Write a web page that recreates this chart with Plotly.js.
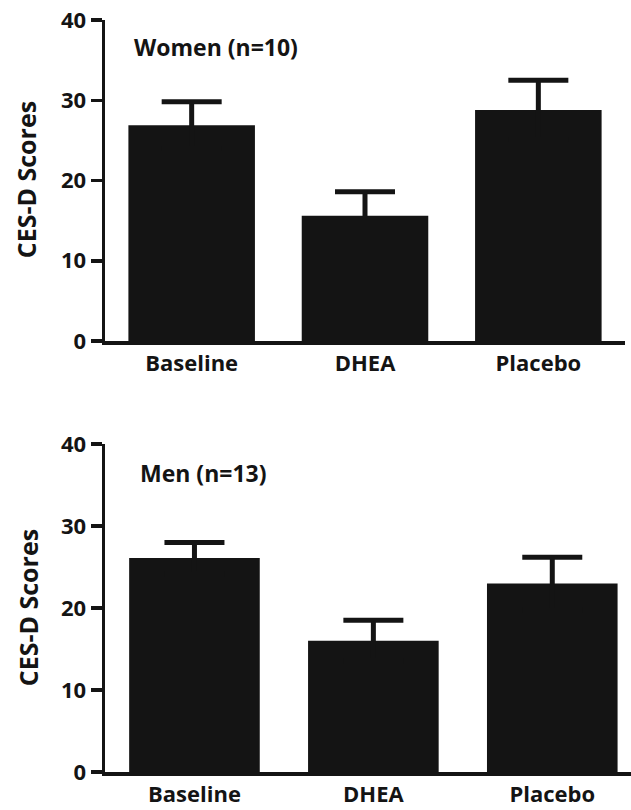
<!DOCTYPE html>
<html>
<head>
<meta charset="utf-8">
<script src="https://cdn.plot.ly/plotly-3.0.1.min.js"></script>
<style>html,body{margin:0;padding:0;background:#fff;}#chart{width:631px;height:810px;}</style>
</head>
<body>
<div id="chart"></div>
<script>
const categories = ["Baseline", "DHEA", "Placebo"];
const womenMeans = [26.9, 15.6, 28.8];
const womenErr = [2.9, 3.0, 3.7];
const menMeans = [26.1, 16.0, 23.0];
const menErr = [1.9, 2.5, 3.2];
const yTicks = [0, 10, 20, 30, 40];
const panelLabels = ["Women (n=10)", "Men (n=13)"];
const yTitle = "CES-D Scores";

const ink = "#141414";
const fontFam = "'Open Sans', sans-serif";

function barTrace(y, err, xa, ya) {
  return {
    type: "bar", x: categories, y: y, xaxis: xa, yaxis: ya,
    marker: {color: ink, line: {width: 0}},
    error_y: {type: "data", array: err, symmetric: true,
              color: ink, thickness: 5, width: 30},
    hoverinfo: "skip", showlegend: false
  };
}

const xFont = {family: fontFam, size: 22, color: ink, weight: 700};
const yFont = {family: fontFam, size: 22, color: ink, weight: 700};
function yax(domain) {
  return {domain: domain, range: [0, 40], tickvals: yTicks, showgrid: false, zeroline: false,
          showline: true, linewidth: 3.5, linecolor: ink, ticks: "outside", ticklen: 11,
          tickwidth: 3.5, tickcolor: ink, tickfont: yFont, fixedrange: true};
}
function xax(domain, range, anchor) {
  return {domain: domain, range: range, anchor: anchor, showgrid: false, zeroline: false,
          showline: true, linewidth: 3.5, linecolor: ink, ticks: "", tickfont: xFont,
          fixedrange: true};
}

const layout = {
  width: 631, height: 810,
  margin: {l: 105, r: 0, t: 20, b: 38},
  paper_bgcolor: "#fff", plot_bgcolor: "#fff",
  bargap: 0.27,
  xaxis: xax([0, 0.9886], [-0.5, 2.5], "y"),
  yaxis: yax([0.5731, 1]),
  xaxis2: xax([0, 1], [-0.5, 2.44], "y2"),
  yaxis2: Object.assign(yax([0, 0.436]), {anchor: "x2"}),
  annotations: [
    {text: panelLabels[0], xref: "paper", yref: "paper", x: 0.051, y: 0.964, xanchor: "left", yanchor: "middle",
     showarrow: false, font: {family: fontFam, size: 23, color: ink, weight: 700}},
    {text: panelLabels[1], xref: "paper", yref: "paper", x: 0.062, y: 0.3976, xanchor: "left", yanchor: "middle",
     showarrow: false, font: {family: fontFam, size: 23, color: ink, weight: 700}},
    {text: yTitle, xref: "paper", yref: "paper", x: -0.150, y: 0.787, xanchor: "center", yanchor: "middle",
     textangle: -90, showarrow: false, font: {family: fontFam, size: 25, color: ink, weight: 700}},
    {text: yTitle, xref: "paper", yref: "paper", x: -0.146, y: 0.218, xanchor: "center", yanchor: "middle",
     textangle: -90, showarrow: false, font: {family: fontFam, size: 25, color: ink, weight: 700}}
  ]
};
layout.yaxis.anchor = "x";

Plotly.newPlot("chart", [barTrace(womenMeans, womenErr, "x", "y"), barTrace(menMeans, menErr, "x2", "y2")],
  layout, {staticPlot: true, displayModeBar: false});
</script>
</body>
</html>
